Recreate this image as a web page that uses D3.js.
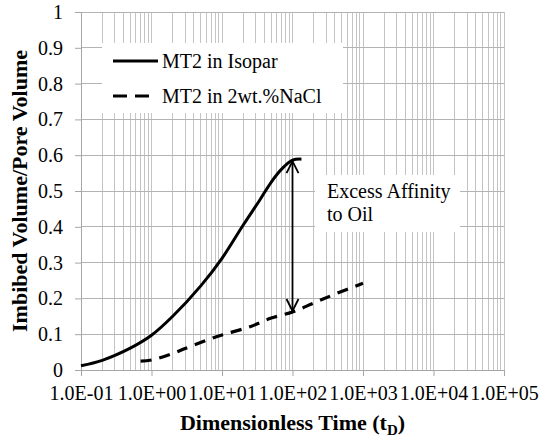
<!DOCTYPE html>
<html>
<head>
<meta charset="utf-8">
<script src="https://cdn.jsdelivr.net/npm/d3@7"></script>
<style>
  html, body { margin: 0; padding: 0; background: #fff; }
  svg { display: block; }
  svg text, svg tspan { font-family: "Liberation Serif", serif !important; }
</style>
</head>
<body>
<svg id="chart" width="546" height="441"></svg>
<script>
// Spontaneous imbibition: imbibed volume vs. dimensionless time
const tdIsopar = [0.1, 0.2, 0.5, 1, 2, 5, 10, 20, 34.4, 50, 70, 100, 134];
const pvIsopar = [0.012, 0.027, 0.061, 0.097, 0.15, 0.235, 0.312, 0.405, 0.475, 0.525, 0.561, 0.586, 0.589];

const tdNaCl = [0.7, 1, 2, 3, 6, 10, 25, 50, 100, 200, 400, 1000];
const pvNaCl = [0.025, 0.028, 0.046, 0.06, 0.083, 0.098, 0.121, 0.145, 0.162, 0.187, 0.212, 0.242];

const seriesNames = ["MT2 in Isopar", "MT2 in 2wt.%NaCl"];
const xTickValues = [1e-1, 1e0, 1e1, 1e2, 1e3, 1e4, 1e5];
const xTickLabels = ["1.0E-01", "1.0E+00", "1.0E+01", "1.0E+02", "1.0E+03", "1.0E+04", "1.0E+05"];
const yTickValues = [0, 0.1, 0.2, 0.3, 0.4, 0.5, 0.6, 0.7, 0.8, 0.9, 1];
const yTickLabels = ["0", "0.1", "0.2", "0.3", "0.4", "0.5", "0.6", "0.7", "0.8", "0.9", "1"];
const annotationLines = ["Excess Affinity", "to Oil"];
const arrowT = 100;

const svg = d3.select("#chart");
const plotLeft = 81, plotRight = 504, plotTop = 12, plotBottom = 370;

const x = d3.scaleLog().domain([1e-1, 1e5]).range([plotLeft, plotRight]);
const y = d3.scaleLinear().domain([0, 1]).range([plotBottom, plotTop]);

// serif text helper
function serif(sel, size, bold) {
  sel.attr("font-family", "Liberation Serif").style("font-family", "Liberation Serif")
    .attr("font-size", size).attr("fill", "#000");
  if (bold) sel.attr("font-weight", "bold");
  return sel;
}

// minor + major vertical gridlines on the log axis
const logGrid = [];
for (let e = -1; e < 5; e++) {
  for (let m = 1; m <= 9; m++) logGrid.push(m * Math.pow(10, e));
}
logGrid.push(1e5);

const grid = svg.append("g");
grid.selectAll("line.v").data(logGrid).join("line")
  .attr("class", "v")
  .attr("x1", d => x(d)).attr("x2", d => x(d))
  .attr("y1", plotTop).attr("y2", plotBottom)
  .attr("stroke", "#c4c4c4").attr("stroke-width", 1)
  .attr("shape-rendering", "crispEdges");
grid.selectAll("line.h").data(yTickValues).join("line")
  .attr("class", "h")
  .attr("x1", plotLeft).attr("x2", plotRight)
  .attr("y1", d => y(d)).attr("y2", d => y(d))
  .attr("stroke", "#b4b4b4").attr("stroke-width", 1)
  .attr("shape-rendering", "crispEdges");

function styleAxis(g) {
  g.attr("font-family", "Liberation Serif");
  g.select(".domain").attr("stroke", "#a6a6a6");
  g.selectAll(".tick line").attr("stroke", "#a6a6a6");
  g.selectAll(".tick text").call(serif, 20, false);
}

// y axis
const yAxis = d3.axisLeft(y).tickValues(yTickValues)
  .tickFormat((d, i) => yTickLabels[i]).tickSize(6).tickPadding(12);
svg.append("g").attr("transform", `translate(${plotLeft},0)`).call(yAxis).call(styleAxis);

// x axis
const xAxis = d3.axisBottom(x).tickValues(xTickValues)
  .tickFormat((d, i) => xTickLabels[i]).tickSize(6).tickPadding(10);
svg.append("g").attr("transform", `translate(0,${plotBottom})`).call(xAxis).call(styleAxis);

// axis titles
svg.append("text")
  .attr("x", (plotLeft + plotRight) / 2).attr("y", 430)
  .attr("text-anchor", "middle")
  .call(serif, 22, true)
  .call(t => {
    t.append("tspan").text("Dimensionless Time (t");
    t.append("tspan").attr("font-size", 15).attr("dy", 5).text("D");
    t.append("tspan").attr("dy", -5).text(")");
  });

svg.append("text")
  .attr("transform", `translate(27,${(plotTop + plotBottom) / 2}) rotate(-90)`)
  .attr("text-anchor", "middle")
  .call(serif, 22, true)
  .text("Imbibed Volume/Pore Volume");

// curves
const curveGen = d3.line().x(d => x(d[0])).y(d => y(d[1])).curve(d3.curveCatmullRom.alpha(0.5));

svg.append("path")
  .datum(tdIsopar.map((t, i) => [t, pvIsopar[i]]))
  .attr("d", curveGen)
  .attr("fill", "none").attr("stroke", "#000").attr("stroke-width", 3);

svg.append("path")
  .datum(tdNaCl.map((t, i) => [t, pvNaCl[i]]))
  .attr("d", curveGen)
  .attr("fill", "none").attr("stroke", "#000").attr("stroke-width", 3.2)
  .attr("stroke-dasharray", "11,8");

// legend
const lg = svg.append("g");
lg.append("rect").attr("x", 102).attr("y", 43).attr("width", 241).attr("height", 70).attr("fill", "#fff");
const legendRows = [
  { name: seriesNames[0], dash: null, x2: 158, yy: 61 },
  { name: seriesNames[1], dash: "14,8", x2: 149, yy: 96 }
];
legendRows.forEach(r => {
  lg.append("line").attr("x1", 113).attr("x2", r.x2).attr("y1", r.yy).attr("y2", r.yy)
    .attr("stroke", "#000").attr("stroke-width", 3)
    .attr("stroke-dasharray", r.dash);
  lg.append("text").attr("x", 162).attr("y", r.yy + 7).call(serif, 20, false).text(r.name);
});

// annotation: double-headed arrow between the two curves
const yTopArrow = y(pvIsopar[tdIsopar.indexOf(arrowT)]);
const yBotArrow = y(pvNaCl[tdNaCl.indexOf(arrowT)]);
const ax = x(arrowT);
const ag = svg.append("g").attr("fill", "none").attr("stroke", "#000").attr("stroke-width", 1.8);
ag.append("line").attr("x1", ax).attr("x2", ax).attr("y1", yTopArrow + 1).attr("y2", yBotArrow - 1);
ag.append("path").attr("d", `M${ax - 6},${yTopArrow + 13} L${ax},${yTopArrow + 1} L${ax + 6},${yTopArrow + 13}`);
ag.append("path").attr("d", `M${ax - 6},${yBotArrow - 13} L${ax},${yBotArrow - 1} L${ax + 6},${yBotArrow - 13}`);

const ab = svg.append("g");
ab.append("rect").attr("x", 315).attr("y", 175).attr("width", 145).attr("height", 57).attr("fill", "#fff");
annotationLines.forEach((s, i) => {
  ab.append("text").attr("x", 327).attr("y", 198 + i * 23).call(serif, 20, false).text(s);
});
</script>
</body>
</html>
